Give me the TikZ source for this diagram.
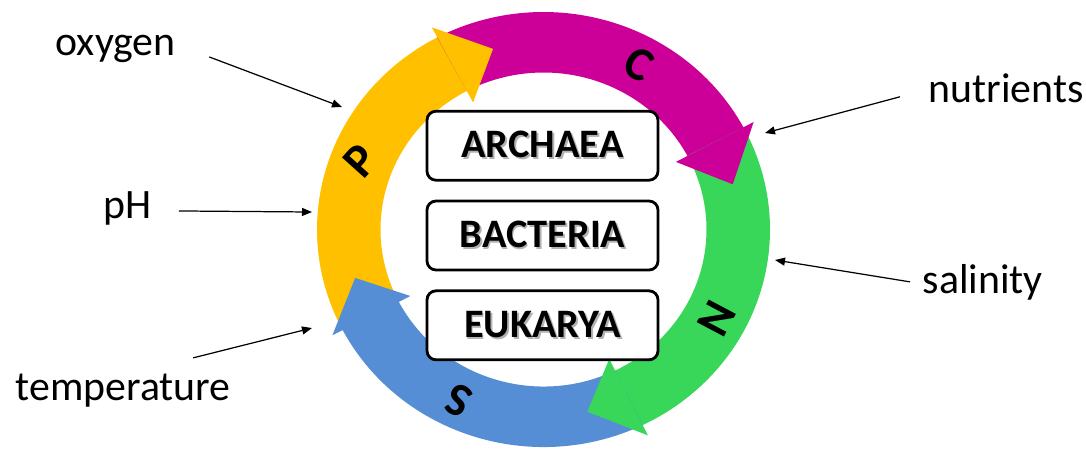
\documentclass[tikz,border=0pt]{standalone}
\usepackage{fontspec}
\setmainfont{Carlito}
\usetikzlibrary{positioning,arrows.meta}

\definecolor{cycyellow}{RGB}{255,192,0}
\definecolor{cycmagenta}{RGB}{204,0,153}
\definecolor{cycgreen}{RGB}{56,214,89}
\definecolor{cycblue}{RGB}{85,142,213}

% text with a soft grey shadow
\newcommand{\shtext}[1]{\makebox[0pt][l]{\hspace{0.5pt}\raisebox{-0.5pt}{\textcolor{black!30}{#1}}}#1}

\begin{document}
\begin{tikzpicture}[
    domainbox/.style={draw,line width=0.8pt,rounded corners=0.09cm,fill=white,
        minimum width=2.31cm,minimum height=0.69cm,font=\bfseries\fontsize{11.5}{13}\selectfont},
    factor/.style={inner sep=0pt,font=\fontsize{11.9}{13}\selectfont},
    pointer/.style={-{Triangle[length=1mm,width=0.8mm]},line width=0.35pt},
    cyclelab/.style={font=\bfseries\fontsize{13.5}{15}\selectfont}
]
    \useasboundingbox (-5.435,-2.195) rectangle (5.425,2.295);

    % Ring: arrow bodies
    \foreach \s/\b/\col in {207.5/117/cycyellow,118/27/cycmagenta,28/-65/cycgreen,-64/-153.5/cycblue} {
        \fill[\col] (\s:2.265 and 2.175) arc[start angle=\s,end angle=\b,x radius=2.265,y radius=2.175]
            -- (\b:1.63 and 1.57) arc[start angle=\b,end angle=\s,x radius=1.63,y radius=1.57] -- cycle;
    }
    % Ring: arrow heads
    \foreach \b/\t/\col in {118/105/cycyellow,28/14/cycmagenta,-64/-77/cycgreen,-152.5/-165/cycblue} {
        \fill[\col] (\b:2.38 and 2.29) -- (\t:1.95 and 1.87) -- (\b:1.50 and 1.44) -- cycle;
    }

    % Cycle letters
    \foreach \a/\r/\lab in {158.7/48/P,60.7/-29.3/C,-27.9/-117.9/N,244.4/154.4/S} {
        \node[cyclelab,rotate=\r] (cyc\lab) at (\a:1.96 and 1.9) {\lab};
    }

    % Domains
    \node[domainbox] (bacteria) at (-0.01,-0.06) {\shtext{BACTERIA}};
    \node[domainbox,above=0.18cm of bacteria] (archaea) {\shtext{ARCHAEA}};
    \node[domainbox,below=0.18cm of bacteria] (eukarya) {\shtext{EUKARYA}};

    % Factors
    \node[factor,anchor=base west] (oxygen) at (-4.885,1.745) {oxygen};
    \node[factor,anchor=base west] (ph) at (-4.405,0.115) {pH};
    \node[factor,anchor=base west] (temperature) at (-5.285,-1.705) {temperature};
    \node[factor,anchor=base west] (nutrients) at (3.845,1.275) {nutrients};
    \node[factor,anchor=base west] (salinity) at (3.785,-0.635) {salinity};

    \coordinate (oxygen end) at (-2.015,1.225);
    \coordinate (ph end) at (-2.315,0.175);
    \coordinate (temperature end) at (-2.315,-0.985);
    \coordinate (nutrients end) at (2.215,0.965);
    \coordinate (salinity end) at (2.315,-0.305);

    \draw[pointer] ([xshift=3.3mm,yshift=-0.85mm]oxygen.east) -- (oxygen end);
    \draw[pointer] ([xshift=2.65mm,yshift=-0.3mm]ph.east) -- (ph end);
    \draw[pointer] ([xshift=-3.8mm,yshift=1.5mm]temperature.north east) -- (temperature end);
    \draw[pointer] ([xshift=-2.8mm,yshift=-0.9mm]nutrients.west) -- (nutrients end);
    \draw[pointer] ([xshift=-1.2mm]salinity.west) -- (salinity end);
\end{tikzpicture}
\end{document}
